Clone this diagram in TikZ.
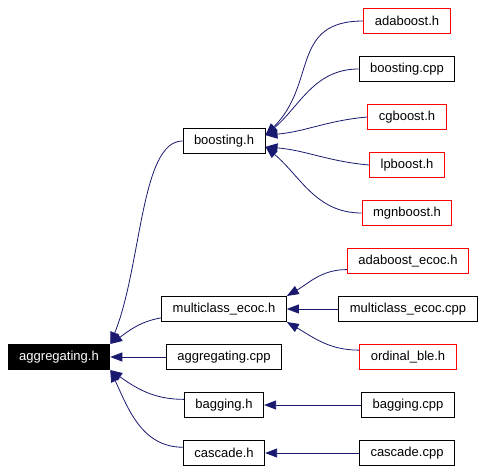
\documentclass[tikz,border=0pt]{standalone}
\usepackage{fontspec}
\setmainfont{Liberation Sans}
\usetikzlibrary{arrows.meta, positioning}
\definecolor{edgeblue}{HTML}{191970}

\begin{document}
\begin{tikzpicture}[
    on grid,
    every node/.style={font=\fontsize{13}{15}\selectfont},
    file/.style={draw=#1, line width=1pt, inner xsep=11pt, minimum height=25pt, fill=white},
    file/.default=black,
    rootfile/.style={file, fill=black, text=white},
    edge/.style={-{Triangle[length=12pt, width=9pt]}, color=edgeblue, line width=0.8pt}
]
\useasboundingbox (0,0) rectangle (484pt,-471pt);

% Nodes
\node[rootfile] (agg) at (59pt,-357pt) {aggregating.h};
\node[file, right=165pt of agg] (aggcpp) {aggregating.cpp};
\node[file, above=48pt of aggcpp] (mc) {multiclass\_ecoc.h};
\node[file, above=168pt of mc] (boost) {boosting.h};
\node[file, below=48pt of aggcpp] (bag) {bagging.h};
\node[file, below=48pt of bag] (cas) {cascade.h};

\node[file=red, above right=120pt and 183pt of boost] (ada) {adaboost.h};
\node[file, above right=72pt and 183pt of boost] (boostcpp) {boosting.cpp};
\node[file=red, above right=24pt and 183pt of boost] (cg) {cgboost.h};
\node[file=red, below right=24pt and 183pt of boost] (lp) {lpboost.h};
\node[file=red, below right=72pt and 183pt of boost] (mgn) {mgnboost.h};

\node[file=red, above right=48pt and 184pt of mc] (adaecoc) {adaboost\_ecoc.h};
\node[file, right=184pt of mc] (mccpp) {multiclass\_ecoc.cpp};
\node[file=red, below right=48pt and 184pt of mc] (ord) {ordinal\_ble.h};

\node[file, right=184pt of bag] (bagcpp) {bagging.cpp};
\node[file, right=183pt of cas] (cascpp) {cascade.cpp};

% Edges into boosting.h
\draw[edge] (ada.west) to[out=180, in=45, looseness=1.25] (boost.8);
\draw[edge] (boostcpp.west) to[out=180, in=40] (boost.8);
\draw[edge] (cg.west) to[out=185, in=5] (boost.8);
\draw[edge] (lp.west) to[out=175, in=-5] (boost.-8);
\draw[edge] (mgn.west) to[out=180, in=-40] (boost.-8);

% Edges into multiclass_ecoc.h
\draw[edge] (adaecoc.188) to[out=180, in=30] (mc.north east);
\draw[edge] (mccpp) -- (mc);
\draw[edge] (ord.172) to[out=180, in=-30] (mc.south east);

% Edges into bagging.h and cascade.h
\draw[edge] (bagcpp) -- (bag);
\draw[edge] (cascpp) -- (cas);

% Edges into aggregating.h
\draw[edge] (boost.west) to[out=180, in=68, out looseness=0.5] (agg.north east);
\draw[edge] (mc.188) to[out=190, in=35] (agg.north east);
\draw[edge] (aggcpp) -- (agg);
\draw[edge] (bag.172) to[out=180, in=-35] (agg.south east);
\draw[edge] (cas.172) to[out=180, in=-65] (agg.south east);
\end{tikzpicture}
\end{document}
